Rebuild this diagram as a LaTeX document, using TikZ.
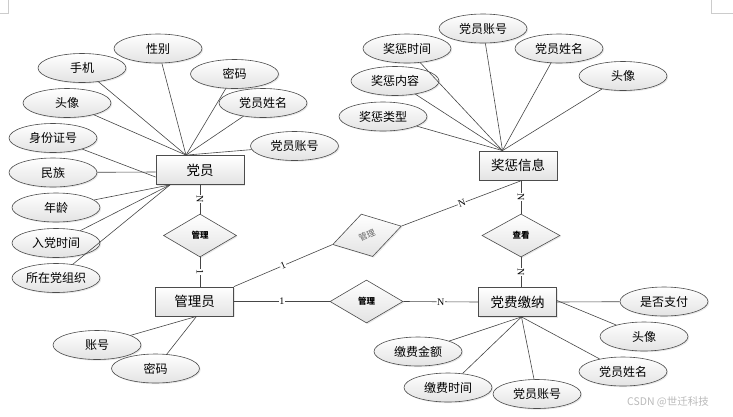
\documentclass[tikz,border=0pt]{standalone}
\usepackage{fontspec}
\setmainfont{Noto Sans CJK SC}
\newfontfamily\cardfont{Liberation Serif}
\usetikzlibrary{shapes.geometric,shadows,calc}
\begin{document}
\begin{tikzpicture}[x=1pt,y=-1pt,
  shade/.style={top color=white,bottom color=gray!22,
    drop shadow={shadow xshift=1.2pt,shadow yshift=-1.2pt,fill=gray!35}},
  attr/.style={ellipse,draw=gray!60!black,line width=0.6pt,shade,
    minimum width=88pt,minimum height=29pt,inner sep=0pt,
    font=\fontsize{12}{12}\selectfont},
  ent/.style={rectangle,draw=gray!60!black,line width=0.8pt,shade,
    minimum height=29pt,inner sep=0pt,font=\fontsize{13.5}{14}\selectfont},
  rel/.style={diamond,draw=gray!60!black,line width=0.6pt,shade,
    minimum width=73pt,minimum height=43pt,inner sep=0pt,
    font=\bfseries\fontsize{8.5}{9}\selectfont},
  link/.style={draw=gray!55!black,line width=0.6pt},
  card/.style={font=\cardfont\fontsize{10}{10}\selectfont,fill=white,inner sep=0.5pt,sloped}
]
\useasboundingbox (0,0) rectangle (733,416);
% page corner marks
\draw[gray!40,line width=0.6pt] (8,0) -- (8,13) -- (0,13);
\draw[gray!40,line width=0.6pt] (711,0) -- (711,13) -- (733,13);

% entities
\node[ent,minimum width=88pt] (dy) at (200,170) {党员};
\node[ent,minimum width=78pt] (gly) at (194.5,301.5) {管理员};
\node[ent,minimum width=78pt] (jc) at (518,165.5) {奖惩信息};
\node[ent,minimum width=78pt] (df) at (517.5,302) {党费缴纳};

% relations
\node[rel] (r1) at (200,235.5) {管理};
\node[rel,minimum width=78pt] (r2) at (521,235.5) {查看};
\node[rel] (r3) at (366.5,301.5) {管理};
\node[diamond,draw=gray!60!black,line width=0.6pt,shade,inner sep=0pt,
  rotate=15,minimum width=71pt,minimum height=44pt] (r4) at (367,235.3) {};
\node[rotate=25,font=\fontsize{8.5}{9}\selectfont,text=gray!80!black,inner sep=0pt] (r4t) at (r4.center) {管理};

% attributes of 党员
\node[attr] (a1) at (158,48.5) {性别};
\node[attr] (a2) at (82,68) {手机};
\node[attr] (a3) at (234.5,74) {密码};
\node[attr] (a4) at (263,103) {党员姓名};
\node[attr] (a5) at (67,103) {头像};
\node[attr] (a6) at (53,138) {身份证号};
\node[attr] (a7) at (294.5,146) {党员账号};
\node[attr] (a8) at (53,172.5) {民族};
\node[attr] (a9) at (56,207.5) {年龄};
\node[attr] (a10) at (56,243) {入党时间};
\node[attr] (a11) at (56,278) {所在党组织};

\coordinate (dytop) at ([xshift=-14pt]dy.north);
\coordinate (dybot) at ([xshift=-30pt]dy.south);
\foreach \a in {a1,a2,a3,a4,a5,a7} \draw[link] (\a) -- (dytop);
\draw[link] (a6) -- ([yshift=-7pt]dy.west);
\draw[link] (a8) -- ([yshift=-2pt]dy.west);
\foreach \a in {a9,a10,a11} \draw[link] (\a) -- (dybot);

% attributes of 管理员
\node[attr] (b1) at (97,345) {账号};
\node[attr] (b2) at (155.5,368.5) {密码};
\coordinate (glybot) at ([xshift=2pt]gly.south);
\draw[link] (b1) -- (glybot);
\draw[link] (b2) -- (glybot);

% attributes of 奖惩信息
\node[attr] (c1) at (483,28.5) {党员账号};
\node[attr] (c2) at (407,48.5) {奖惩时间};
\node[attr] (c3) at (559,48.5) {党员姓名};
\node[attr] (c4) at (395,81) {奖惩内容};
\node[attr] (c5) at (623,76) {头像};
\node[attr] (c6) at (383,116.5) {奖惩类型};
\coordinate (jctop) at ([xshift=-15.5pt]jc.north);
\foreach \a in {c1,c2,c3,c4,c5,c6} \draw[link] (\a) -- (jctop);

% attributes of 党费缴纳
\node[attr] (d1) at (664,301.5) {是否支付};
\node[attr] (d2) at (644,336.5) {头像};
\node[attr] (d3) at (623,371.5) {党员姓名};
\node[attr] (d4) at (537,394) {党员账号};
\node[attr] (d5) at (448,387.5) {缴费时间};
\node[attr] (d6) at (418,351.5) {缴费金额};
\coordinate (dfbot) at ([xshift=4pt]df.south);
\draw[link] (df.east) -- (d1);
\draw[link] ([yshift=1.5pt]df.east) -- (d2);
\foreach \a in {d3,d4,d5,d6} \draw[link] (dfbot) -- (\a);

% relationship connectors
\draw[link] (dy.south) -- node[card]{N} (r1.north);
\draw[link] (r1.south) -- node[card]{1} (r1.south |- gly.north);
\draw[link] (r2.north |- jc.south) -- node[card]{N} (r2.north);
\draw[link] (r2.south) -- node[card]{N} (r2.south |- df.north);
\draw[link] (gly.east) -- node[card]{1} (r3.west);
\draw[link] (r3.east) -- node[card]{N} (df.west);
\draw[link] (gly.north east) -- node[card]{1} (r4.west);
\draw[link] (r4.east) -- node[card]{N} ([xshift=4pt]jc.south);

% watermark
\node[font=\fontsize{10.5}{11}\selectfont,text=gray!55] (wm) at (668,402) {CSDN @世迁科技};
\end{tikzpicture}
\end{document}
